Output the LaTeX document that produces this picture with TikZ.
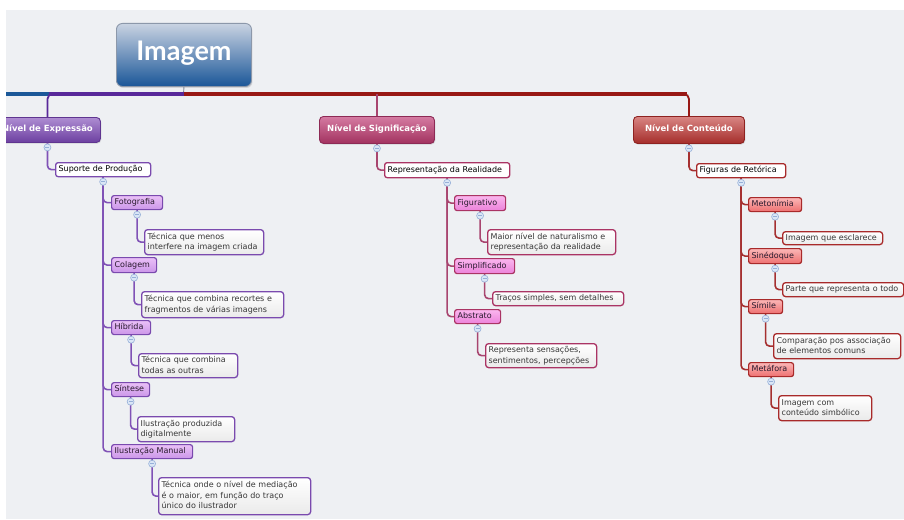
\documentclass[tikz,border=0pt]{standalone}
\usepackage{fontspec}
\setmainfont{DejaVu Sans}
\newfontfamily\rootfont{Lato}
\usetikzlibrary{shadows}

% paper and hub bar
\definecolor{paper}{RGB}{238,240,243}
\definecolor{barblue}{RGB}{27,88,152}
\definecolor{barpurple}{RGB}{88,40,154}
\definecolor{barred}{RGB}{152,24,20}
\definecolor{stemgray}{RGB}{130,140,155}
% root
\definecolor{roottop}{RGB}{201,211,226}
\definecolor{rootbot}{RGB}{26,86,152}
\definecolor{rootedge}{RGB}{140,152,170}
% purple family
\definecolor{pone}{RGB}{174,141,210}
\definecolor{ponebot}{RGB}{108,63,160}
\definecolor{poneedge}{RGB}{95,53,144}
\definecolor{pline}{RGB}{128,82,182}
\definecolor{pedge}{RGB}{122,74,174}
\definecolor{pthreetop}{RGB}{234,192,247}
\definecolor{pthreebot}{RGB}{203,150,232}
% pink family
\definecolor{kone}{RGB}{213,123,162}
\definecolor{konebot}{RGB}{162,50,95}
\definecolor{koneedge}{RGB}{141,42,85}
\definecolor{kline}{RGB}{168,69,111}
\definecolor{kedge}{RGB}{170,52,100}
\definecolor{kthreetop}{RGB}{250,182,238}
\definecolor{kthreebot}{RGB}{236,130,218}
% red family
\definecolor{rone}{RGB}{217,134,132}
\definecolor{ronebot}{RGB}{165,45,42}
\definecolor{roneedge}{RGB}{142,34,32}
\definecolor{rline}{RGB}{165,48,48}
\definecolor{redge}{RGB}{168,42,42}
\definecolor{rthreetop}{RGB}{251,183,183}
\definecolor{rthreebot}{RGB}{238,112,112}
% shared
\definecolor{notetop}{RGB}{255,255,255}
\definecolor{notebot}{RGB}{234,234,234}
\definecolor{notetext}{RGB}{55,55,55}
\definecolor{leaftext}{RGB}{40,25,45}
\definecolor{cfill}{RGB}{218,230,246}
\definecolor{cedge}{RGB}{150,176,216}

\tikzset{
  base/.style={anchor=north west, inner xsep=3pt, inner ysep=1pt,
    font=\fontsize{8}{10.5}\selectfont, align=left},
  rootbox/.style={base, align=center, rounded corners=6pt, draw=rootedge,
    line width=0.9pt, top color=roottop, bottom color=rootbot, text=white,
    font=\rootfont\bfseries\fontsize{27}{30}\selectfont,
    drop shadow={shadow xshift=1pt, shadow yshift=-1.5pt, opacity=0.25}},
  lvone/.style={base, align=center, rounded corners=4pt, line width=0.9pt,
    text=white, font=\bfseries\fontsize{8.5}{10}\selectfont,
    drop shadow={shadow xshift=0.8pt, shadow yshift=-1.2pt, opacity=0.25}},
  lvtwo/.style={base, rounded corners=2.5pt, line width=1.3pt, fill=white,
    text=black},
  lvthree/.style={base, rounded corners=2.5pt, line width=1.2pt, text=leaftext},
  note/.style={base, rounded corners=3pt, line width=1.3pt,
    top color=notetop, bottom color=notebot, text=notetext},
  ponebox/.style={lvone, top color=pone, bottom color=ponebot, draw=poneedge},
  konebox/.style={lvone, top color=kone, bottom color=konebot, draw=koneedge},
  ronebox/.style={lvone, top color=rone, bottom color=ronebot, draw=roneedge},
  pthree/.style={lvthree, top color=pthreetop, bottom color=pthreebot, draw=pedge},
  kthree/.style={lvthree, top color=kthreetop, bottom color=kthreebot, draw=kedge},
  rthree/.style={lvthree, top color=rthreetop, bottom color=rthreebot, draw=redge},
  collapse/.style={circle, minimum size=7pt, inner sep=0pt, fill=cfill,
    draw=cedge, line width=0.6pt,
    path picture={\draw[cedge, line width=0.7pt]
      ([xshift=-2pt]path picture bounding box.center) --
      ([xshift=2pt]path picture bounding box.center);}},
  link/.style={line width=1.6pt, rounded corners=4pt},
  bar/.style={line width=3.2pt},
}

% topic box given by its corners: style, name, x1, y1, x2, y2, lines
\newcommand\mmnode[7]{%
  \pgfmathsetmacro\mmw{#5-#3}%
  \pgfmathsetmacro\mmh{#6-#4}%
  \pgfmathsetmacro\mmt{#5-#3-6}%
  \node[#1, minimum width=\mmw pt, minimum height=\mmh pt, text width=\mmt pt]
    (#2) at (#3,#4) {\noindent\begin{tabular}{@{}l@{}}#7\end{tabular}};}

% collapse marker under a topic
\newcommand\fold[1]{\node[collapse] (#1-c) at ([yshift=-4.5pt]#1.south) {};}

\begin{document}
\begin{tikzpicture}[x=1pt,y=-1pt]
\useasboundingbox (0,0) rectangle (904,519);
\fill[white] (0,0) rectangle (904,519);
\fill[paper] (6,10) rectangle (904,519);

\begin{scope}
\clip (6,10) rectangle (904,519);

% central topic and main branches
\mmnode{rootbox}{root}{116}{23}{251}{86}{Imagem}
\mmnode{ponebox}{exp}{-6}{117}{100}{142}{Nível de Expressão}
\mmnode{konebox}{sig}{319}{116}{434}{143}{Nível de Significação}
\mmnode{ronebox}{con}{633}{116}{744}{143}{Nível de Conteúdo}

\coordinate (hub) at (183.5,94);
\coordinate (farleft) at (-30,94);
\draw[stemgray, line width=0.9pt] (root.south) -- (hub);
\draw[bar, barblue] (hub) -- (farleft);
\draw[bar, barpurple] (hub) -- ([xshift=2pt]exp.north |- hub);
\draw[barpurple, line width=1.8pt, rounded corners=5pt]
  ([xshift=7pt]exp.north |- hub) -| (exp.north);
\draw[bar, barred] (hub) -- ([xshift=-2pt]con.north |- hub);
\draw[barred, line width=1.8pt, rounded corners=5pt]
  ([xshift=-7pt]con.north |- hub) -| (con.north);
\draw[kline, line width=1.6pt] (sig.north |- hub) -- (sig.north);

% ---- Nível de Expressão
\mmnode{lvtwo, draw=pedge}{sup}{55}{162}{150}{176}{Suporte de Produção}
\mmnode{pthree}{foto}{111}{195}{162}{209}{Fotografia}
\mmnode{pthree}{cola}{111}{257}{156}{272}{Colagem}
\mmnode{pthree}{hib}{111}{320}{150}{334}{Híbrida}
\mmnode{pthree}{sint}{111}{382}{149}{396}{Síntese}
\mmnode{pthree}{ilu}{111}{444}{192}{458}{Ilustração Manual}
\mmnode{note, draw=pedge}{nfoto}{144}{229}{263}{254}{Técnica que menos\\interfere na imagem criada}
\mmnode{note, draw=pedge}{ncola}{141}{291}{283}{317}{Técnica que combina recortes e\\fragmentos de várias imagens}
\mmnode{note, draw=pedge}{nhib}{138}{353}{237}{377}{Técnica que combina\\todas as outras}
\mmnode{note, draw=pedge}{nsint}{137}{416}{234}{441}{Ilustração produzida\\digitalmente}
\mmnode{note, draw=pedge}{nilu}{158}{477}{310}{514}{Técnica onde o nível de mediação\\é o maior, em função do traço\\único do ilustrador}

\draw[link, pline] (exp.south) |- (sup.west);
\foreach \k in {foto,cola,hib,sint,ilu} {\draw[link, pline] (sup.south) |- (\k.west);}
\draw[link, pline] (foto.south) |- (nfoto.west);
\draw[link, pline] (cola.south) |- (ncola.west);
\draw[link, pline] (hib.south) |- (nhib.west);
\draw[link, pline] (sint.south) |- (nsint.west);
\draw[link, pline] (ilu.south) |- (nilu.west);

% ---- Nível de Significação
\mmnode{lvtwo, draw=kedge}{rep}{384}{162}{509}{177}{Representação da Realidade}
\mmnode{kthree}{figu}{454}{195}{505}{210}{Figurativo}
\mmnode{kthree}{simp}{454}{258}{514}{273}{Simplificado}
\mmnode{kthree}{abst}{454}{309}{500}{323}{Abstrato}
\mmnode{note, draw=kedge}{nfigu}{487}{229}{615}{254}{Maior nível de naturalismo e\\representação da realidade}
\mmnode{note, draw=kedge}{nsimp}{492}{291}{623}{305}{Traços simples, sem detalhes}
\mmnode{note, draw=kedge}{nabst}{485}{343}{596}{367}{Representa sensações,\\sentimentos, percepções}

\draw[link, kline] (sig.south) |- (rep.west);
\foreach \k in {figu,simp,abst} {\draw[link, kline] (rep.south) |- (\k.west);}
\draw[link, kline] (figu.south) |- (nfigu.west);
\draw[link, kline] (simp.south) |- (nsimp.west);
\draw[link, kline] (abst.south) |- (nabst.west);

% ---- Nível de Conteúdo
\mmnode{lvtwo, draw=redge}{fig}{696}{163}{785}{177}{Figuras de Retórica}
\mmnode{rthree}{meto}{748}{197}{801}{211}{Metonímia}
\mmnode{rthree}{sine}{748}{248}{801}{263}{Sinédoque}
\mmnode{rthree}{simi}{748}{299}{782}{313}{Símile}
\mmnode{rthree}{meta}{748}{362}{793}{376}{Metáfora}
\mmnode{note, draw=redge}{nmeto}{782}{231}{882}{244}{Imagem que esclarece}
\mmnode{note, draw=redge}{nsine}{782}{282}{903}{296}{Parte que representa o todo}
\mmnode{note, draw=redge}{nsimi}{773}{333}{900}{358}{Comparação pos associação\\de elementos comuns}
\mmnode{note, draw=redge}{nmeta}{778}{395}{871}{420}{Imagem com\\conteúdo simbólico}

\draw[link, rline] (con.south) |- (fig.west);
\foreach \k in {meto,sine,simi,meta} {\draw[link, rline] (fig.south) |- (\k.west);}
\draw[link, rline] (meto.south) |- (nmeto.west);
\draw[link, rline] (sine.south) |- (nsine.west);
\draw[link, rline] (simi.south) |- (nsimi.west);
\draw[link, rline] (meta.south) |- (nmeta.west);

% collapse markers
\foreach \k in {exp,sig,con,sup,rep,fig,foto,cola,hib,sint,ilu,figu,simp,abst,meto,sine,simi,meta}
  {\fold{\k}}
\end{scope}
\end{tikzpicture}
\end{document}
